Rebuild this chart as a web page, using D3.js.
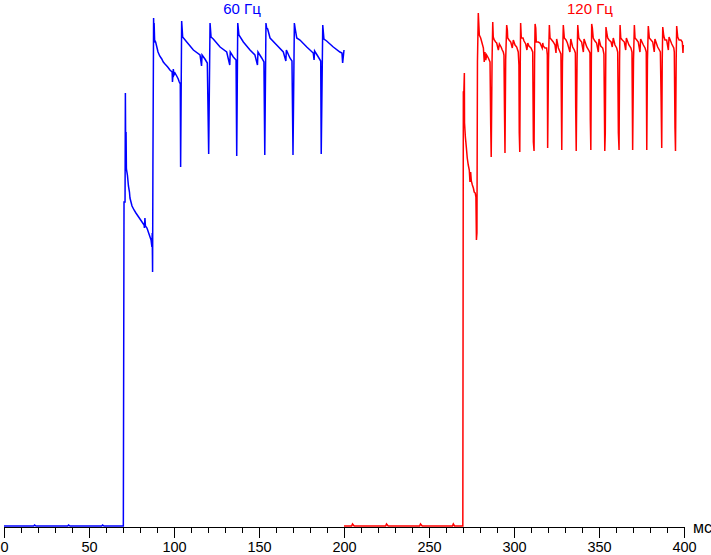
<!DOCTYPE html>
<html><head><meta charset="utf-8">
<script src="https://cdn.jsdelivr.net/npm/d3@7"></script>
<style>body{margin:0;background:#fff}svg{display:block}</style>
</head><body><svg id="c" width="711" height="555"></svg>
<script>
// ---- data ----
const xTickValues = d3.range(0, 401, 10);
const xLabelValues = [0, 50, 100, 150, 200, 250, 300, 350, 400];
const unitLabel = "мс";
const seriesNames = ["60 Гц", "120 Гц"];
const seriesColors = ["#0000ff", "#ff0000"];

// time (ms), brightness (arbitrary units)
const blue60 = [
[0,1],[17.5,1],[18,2],[18.8,1],[37.5,1],[38,2],[38.8,1],[57.5,1],[58,2],[58.8,1],[70.2,1],
[70.6,325],[71.2,325],[71.4,434],[71.6,372],[71.8,395],[72.0,358],[72.6,352],[73.2,341],[73.8,335],[74.1,329],[74.7,325],[75.3,321],[76.5,317],[77.6,314],[78.8,311],[80.0,308],[81.2,305],[82.4,302],[82.6,299],[82.9,309],[83.2,301],[84.1,299],[84.7,296],[85.3,293],[85.9,290],[86.5,287],[87.0,280],[87.2,294],[87.4,255],[87.6,360],
[88.0,509],[88.2,484],[88.3,504],[88.6,487],[89.2,485],[89.9,480],[90.6,475],[91.6,471],[92.8,468],[93.7,465],[94.7,463],[96.3,460],[97.6,457],[98.9,455],[99.1,445],[99.6,458],[100.0,452],[100.6,454],[101.6,451],[102.5,448],[103.1,445],[103.7,443],[103.9,360],
[104.5,506],[105.1,490],[107.5,485],[111.4,477],[115.3,472],[116.2,461],[116.5,472],[118.2,468],[119.6,464],[120.4,373],
[121.2,504],[121.8,490],[123.1,488],[127.1,480],[131.0,475],[132.8,462],[133.1,475],[134.9,470],[136.5,467],[136.9,371],
[137.5,504],[138.2,492],[140.8,485],[144.7,477],[147.6,472],[149.1,462],[149.4,475],[151.6,469],[152.9,465],[153.4,372],
[154.1,504],[154.5,499],[155.1,498],[156.5,489],[160.4,482],[164.3,475],[165.8,466],[166.1,477],[168.2,469],[169.4,466],[170.0,372],
[170.8,504],[171.4,497],[172.2,489],[174.1,487],[178.1,480],[181.9,474],[182.4,467],[182.7,476],[184.9,470],[186.3,466],[186.6,373],
[187.5,502],[188.2,488],[189.8,486],[193.7,480],[197.6,475],[198.8,474],[199.2,464],[200.0,477]
];

const red120 = [
[200,1],[204.5,1],[205,3],[206,1],[224.5,1],[225,3],[226,1],[244.5,1],[245,3],[246,1],[263.8,1],[264.3,3],[265,1],[269.9,1],
[270.2,435],[270.5,435],[270.8,454],[270.9,404],[271.4,390],[272.0,379],[272.5,369],[273.1,362],[273.7,357],[274.1,345],[274.5,355],[274.9,346],[275.5,342],[276.1,339],[276.6,335],[277.2,334],[277.6,330],[277.9,287],[278.2,294],[278.5,465],
[279.0,514],[279.6,492],[280.4,489],[281.2,484],[282.0,479],[282.5,465],[282.9,475],[283.4,467],[283.9,472],[284.9,469],[285.9,465],[286.3,402],[286.6,370],[287.1,467],
[287.5,505],[287.8,490],[288.4,487],[289.2,485],[289.8,484],[290.8,477],[291.4,483],[292.4,480],[293.1,477],[293.7,475],[294.1,472],[294.4,417],[294.7,374],[295.1,467],
[295.7,502],[296.1,497],[296.3,489],[297.1,487],[298.1,485],[299.0,479],[299.6,487],[300.6,482],[301.6,480],[302.5,475],[302.9,462],[303.1,394],[303.4,375],[303.7,467],
[303.9,504],[304.3,489],[305.3,489],[305.9,486],[306.9,483],[307.6,477],[308.1,484],[308.8,481],[310.0,479],[311.0,475],[311.4,385],[311.8,376],[312.1,467],
[312.4,503],[312.8,499],[313.1,485],[314.3,485],[315.3,484],[316.6,479],[316.9,484],[317.2,481],[318.2,479],[319.2,479],[319.6,472],[319.8,379],[320.3,467],
[320.8,502],[321.2,489],[322.2,487],[323.1,485],[324.1,482],[324.7,474],[325.1,488],[326.1,479],[327.1,475],[327.6,473],[328.1,377],[328.5,464],
[329.0,502],[329.6,489],[330.6,487],[331.4,484],[332.9,475],[333.4,488],[334.5,480],[335.5,477],[336.1,474],[336.3,419],[336.6,376],[337.1,467],
[337.5,502],[338.1,489],[338.8,487],[339.8,485],[340.8,475],[341.2,488],[342.8,480],[343.9,477],[344.7,474],[344.9,407],[345.2,377],[345.5,467],
[345.7,503],[346.1,499],[346.6,489],[347.6,486],[348.6,484],[349.6,475],[350.0,488],[351.0,481],[352.2,479],[352.9,473],[353.4,376],[353.7,394],
[354.1,500],[354.5,495],[355.1,489],[355.9,487],[357.1,485],[357.8,480],[358.4,489],[359.4,482],[360.4,479],[361.0,475],[361.4,394],[361.8,377],[362.1,467],
[362.4,502],[362.8,489],[363.7,487],[364.9,485],[365.7,477],[366.1,489],[367.6,482],[368.8,479],[369.4,475],[369.8,377],[370.3,467],
[370.8,502],[371.2,489],[372.2,487],[373.1,485],[374.1,475],[374.5,488],[376.1,482],[377.1,479],[377.8,475],[378.1,377],[378.5,467],
[379.0,501],[379.6,489],[380.6,487],[381.6,485],[382.5,475],[382.9,488],[384.5,480],[385.5,477],[386.1,475],[386.5,432],[386.9,379],[387.2,467],
[387.5,500],[388.1,491],[388.8,487],[389.8,487],[390.8,477],[391.2,490],[392.8,483],[394.0,479],[394.3,475],[394.7,399],[395.0,376],[395.4,467],
[395.7,501],[396.3,490],[397.1,487],[398.2,487],[399.0,485],[399.4,474],[399.6,482]
];

// ---- chart ----
const svg = d3.select("#c");
const font = "'Liberation Sans', Arial, sans-serif";
const x = d3.scaleLinear().domain([0, 400]).range([4, 684]);
const y = d3.scaleLinear().domain([0, 510]).range([527, 17]);

const line = d3.line().x(d => x(d[0])).y(d => y(d[1]));

[blue60, red120].forEach((s, i) => {
  svg.append("path").datum(s)
    .attr("d", line)
    .attr("fill", "none")
    .attr("stroke", seriesColors[i])
    .attr("stroke-width", 1.5)
    .attr("stroke-linejoin", "miter");
});

const axis = d3.axisBottom(x)
  .tickValues(xTickValues)
  .tickSizeOuter(0)
  .tickSizeInner(6)
  .tickFormat(d => xLabelValues.includes(d) ? d : "");

const gAxis = svg.append("g").attr("transform", `translate(0,${y(0)})`).call(axis);
gAxis.select(".domain").attr("stroke", "#000");
gAxis.selectAll(".tick line").attr("stroke", "#000")
  .attr("y2", d => xLabelValues.includes(d) ? 11 : 6);
gAxis.selectAll(".tick text")
  .attr("y", 15).attr("dy", "0.71em")
  .attr("fill", "#000")
  .style("font-family", font).style("font-size", "14.5px");

svg.append("text").attr("x", 693).attr("y", 533)
  .text(unitLabel).attr("fill", "#000")
  .style("font-family", font).style("font-size", "16px");

const labelPos = [[242, 14], [590, 14]];
seriesNames.forEach((n, i) => {
  svg.append("text").attr("x", labelPos[i][0]).attr("y", labelPos[i][1])
    .attr("text-anchor", "middle").attr("fill", seriesColors[i])
    .style("font-family", font).style("font-size", "15px")
    .text(n);
});
</script></body></html>
